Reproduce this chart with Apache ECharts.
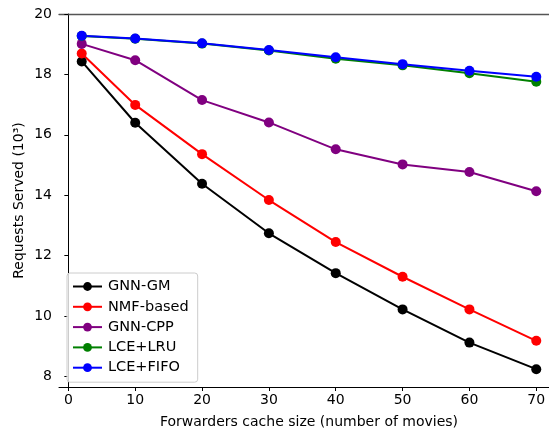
<!DOCTYPE html>
<html>
<head>
<meta charset="utf-8">
<script src="https://cdn.jsdelivr.net/npm/echarts@6/dist/echarts.min.js"></script>
<style>
  html, body { margin: 0; padding: 0; background: #fff; }
  #chart { width: 549px; height: 434px; }
</style>
</head>
<body>
<div id="chart"></div>
<script>
// Cache size of the forwarders (number of movies)
const cacheSizes = [2, 10, 20, 30, 40, 50, 60, 70];

// Requests served (thousands) for each caching scheme
const gnnGM    = [18.43, 16.40, 14.38, 12.74, 11.42, 10.22, 9.12, 8.24];
const nmfBased = [18.69, 16.99, 15.36, 13.84, 12.45, 11.30, 10.22, 9.18];
const gnnCPP   = [19.01, 18.47, 17.15, 16.41, 15.52, 15.02, 14.77, 14.13];
const lceLRU   = [19.27, 19.18, 19.02, 18.79, 18.52, 18.30, 18.04, 17.76];
const lceFIFO  = [19.28, 19.19, 19.03, 18.81, 18.57, 18.34, 18.12, 17.92];

const xTicks = [0, 10, 20, 30, 40, 50, 60, 70];
const yTicks = [8, 10, 12, 14, 16, 18, 20];

const seriesDefs = [
  { name: 'GNN-GM',    data: gnnGM,    color: '#000000' },
  { name: 'NMF-based', data: nmfBased, color: '#ff0000' },
  { name: 'GNN-CPP',   data: gnnCPP,   color: '#800080' },
  { name: 'LCE+LRU',   data: lceLRU,   color: '#008000' },
  { name: 'LCE+FIFO',  data: lceFIFO,  color: '#0000ff' }
];

const font = 'DejaVu Sans';
const chart = echarts.init(document.getElementById('chart'), null, { renderer: 'canvas' });

chart.setOption({
  animation: false,
  backgroundColor: '#ffffff',
  textStyle: { fontFamily: font },
  grid: {
    left: 59, top: 14, width: 500, bottom: 47,
    outerBoundsMode: 'none',
    show: false,
    containLabel: false
  },
  legend: {
    orient: 'vertical',
    left: 67, top: 273,
    padding: [6, 9, 7, 5],
    itemWidth: 29, itemHeight: 11, itemGap: 5.3,
    backgroundColor: 'rgba(255,255,255,0.8)',
    borderColor: '#cccccc', borderWidth: 1, borderRadius: 3,
    textStyle: { fontFamily: font, fontSize: 14.5, lineHeight: 14, color: '#000', padding: [0, 0, 0, 1] },
    data: seriesDefs.map(s => s.name)
  },
  xAxis: [{
    type: 'value',
    min: -1.4, max: 73.4,
    name: 'Forwarders cache size (number of movies)',
    nameLocation: 'middle', nameGap: 28,
    nameTextStyle: { fontFamily: font, fontSize: 14, color: '#000' },
    axisLine: { show: true, lineStyle: { color: '#000', width: 1 } },
    axisTick: { show: true, length: 4, lineStyle: { color: '#000' }, customValues: xTicks },
    axisLabel: { fontFamily: font, fontSize: 14, color: '#000', margin: 6, customValues: xTicks },
    splitLine: { show: false }
  }, {
    // top frame edge of the plot area
    type: 'value',
    position: 'top',
    min: -1.4, max: 73.4,
    axisLine: { show: true, lineStyle: { color: '#555555', width: 1.3 } },
    axisTick: { show: false },
    axisLabel: { show: false },
    splitLine: { show: false }
  }],
  yAxis: {
    type: 'value',
    min: 7.65, max: 20,
    name: 'Requests Served (10³)',
    nameLocation: 'middle', nameGap: 33, nameRotate: 90,
    nameMoveOverlap: false,
    nameTextStyle: { fontFamily: font, fontSize: 14, color: '#000' },
    axisLine: { show: true, lineStyle: { color: '#000', width: 1 } },
    axisTick: { show: true, length: 4, lineStyle: { color: '#000' }, customValues: yTicks },
    axisLabel: { fontFamily: font, fontSize: 14, color: '#000', margin: 7, customValues: yTicks },
    splitLine: { show: false }
  },
  series: seriesDefs.map(s => ({
    name: s.name,
    type: 'line',
    data: cacheSizes.map((x, i) => [x, s.data[i]]),
    symbol: 'circle',
    symbolSize: 10,
    color: s.color,
    lineStyle: { color: s.color, width: 2 },
    itemStyle: { color: s.color },
    emphasis: { disabled: true }
  }))
});
</script>
</body>
</html>
